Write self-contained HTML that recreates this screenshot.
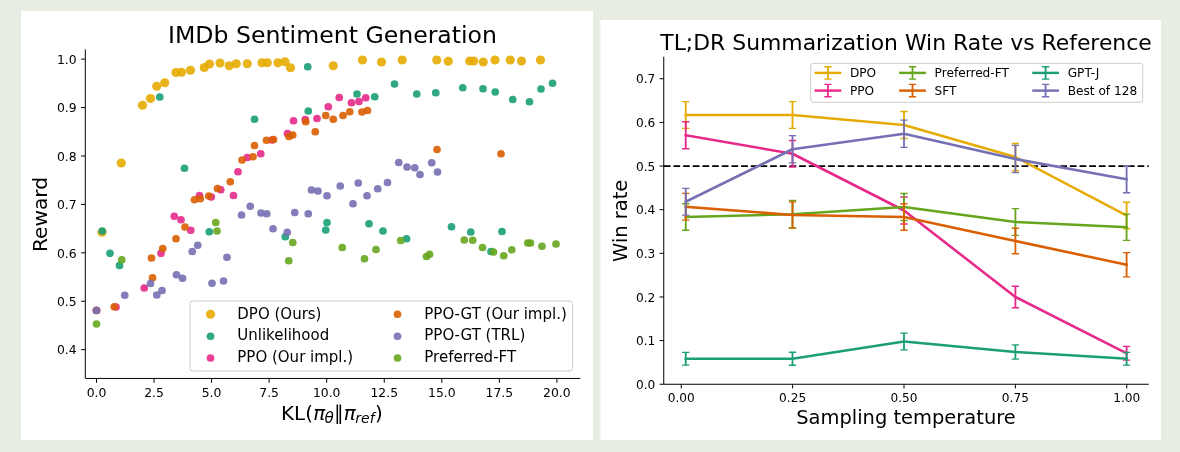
<!DOCTYPE html>
<html><head><meta charset="utf-8"><title>DPO results</title>
<style>
html,body{margin:0;padding:0;background:#e8ede4;}
body{width:1180px;height:452px;overflow:hidden;position:relative;}
svg{position:absolute;left:0;top:0;display:block;will-change:transform;}
text{font-family:"DejaVu Sans", "Liberation Sans", sans-serif;fill:#000;}
.tk{font-size:12.4px;}
.tk2{font-size:12.15px;}
.it{font-style:italic;}
</style></head><body>
<svg width="1180" height="452" viewBox="0 0 1180 452">
<rect x="0" y="0" width="1180" height="452" fill="#e8ede4"/>
<rect x="21" y="11" width="572" height="429" fill="#fff"/>
<rect x="600.5" y="20" width="560.5" height="420" fill="#fff"/>

<g id="left">
<text x="332.5" y="43.1" text-anchor="middle" font-size="23.6px">IMDb Sentiment Generation</text>
<g fill="#e6ab02" fill-opacity="0.9"><circle cx="142.50" cy="105.25" r="4.6"/><circle cx="150.50" cy="98.50" r="4.6"/><circle cx="156.75" cy="86.25" r="4.6"/><circle cx="164.75" cy="82.75" r="4.6"/><circle cx="176.00" cy="72.50" r="4.6"/><circle cx="181.50" cy="72.25" r="4.6"/><circle cx="190.50" cy="70.25" r="4.6"/><circle cx="204.25" cy="67.50" r="4.6"/><circle cx="209.50" cy="64.00" r="4.6"/><circle cx="220.00" cy="63.00" r="4.6"/><circle cx="229.25" cy="65.75" r="4.6"/><circle cx="236.25" cy="63.75" r="4.6"/><circle cx="247.25" cy="63.75" r="4.6"/><circle cx="262.00" cy="62.75" r="4.6"/><circle cx="267.25" cy="62.75" r="4.6"/><circle cx="278.00" cy="62.75" r="4.6"/><circle cx="285.00" cy="61.75" r="4.6"/><circle cx="290.50" cy="67.75" r="4.6"/><circle cx="333.25" cy="65.75" r="4.6"/><circle cx="362.50" cy="60.00" r="4.6"/><circle cx="381.50" cy="62.00" r="4.6"/><circle cx="402.25" cy="60.00" r="4.6"/><circle cx="436.75" cy="60.00" r="4.6"/><circle cx="448.25" cy="61.25" r="4.6"/><circle cx="469.75" cy="61.00" r="4.6"/><circle cx="473.75" cy="61.00" r="4.6"/><circle cx="483.25" cy="62.00" r="4.6"/><circle cx="495.00" cy="60.00" r="4.6"/><circle cx="510.25" cy="60.00" r="4.6"/><circle cx="521.50" cy="61.00" r="4.6"/><circle cx="540.50" cy="60.00" r="4.6"/><circle cx="121.25" cy="163.00" r="4.6"/><circle cx="102.00" cy="232.25" r="4.6"/></g>
<g fill="#1b9e77" fill-opacity="0.9"><circle cx="159.75" cy="97.00" r="3.85"/><circle cx="307.75" cy="66.75" r="3.85"/><circle cx="357.00" cy="94.00" r="3.85"/><circle cx="374.75" cy="96.75" r="3.85"/><circle cx="308.25" cy="111.00" r="3.85"/><circle cx="254.50" cy="119.25" r="3.85"/><circle cx="394.50" cy="84.00" r="3.85"/><circle cx="416.75" cy="94.00" r="3.85"/><circle cx="435.75" cy="92.75" r="3.85"/><circle cx="462.75" cy="87.75" r="3.85"/><circle cx="483.00" cy="88.75" r="3.85"/><circle cx="495.25" cy="92.00" r="3.85"/><circle cx="512.75" cy="99.50" r="3.85"/><circle cx="529.50" cy="101.75" r="3.85"/><circle cx="541.00" cy="89.00" r="3.85"/><circle cx="552.50" cy="83.25" r="3.85"/><circle cx="184.50" cy="168.25" r="3.85"/><circle cx="102.25" cy="231.00" r="3.85"/><circle cx="110.00" cy="253.25" r="3.85"/><circle cx="119.50" cy="265.50" r="3.85"/><circle cx="209.25" cy="231.75" r="3.85"/><circle cx="285.25" cy="236.75" r="3.85"/><circle cx="327.00" cy="222.50" r="3.85"/><circle cx="325.75" cy="230.00" r="3.85"/><circle cx="369.00" cy="223.75" r="3.85"/><circle cx="383.00" cy="231.00" r="3.85"/><circle cx="406.50" cy="238.75" r="3.85"/><circle cx="451.50" cy="226.75" r="3.85"/><circle cx="470.75" cy="232.00" r="3.85"/><circle cx="502.00" cy="231.50" r="3.85"/><circle cx="491.00" cy="251.50" r="3.85"/></g>
<g fill="#e7298a" fill-opacity="0.9"><circle cx="339.25" cy="97.50" r="3.85"/><circle cx="365.75" cy="97.75" r="3.85"/><circle cx="359.00" cy="101.50" r="3.85"/><circle cx="351.50" cy="102.75" r="3.85"/><circle cx="328.25" cy="106.75" r="3.85"/><circle cx="317.00" cy="118.50" r="3.85"/><circle cx="305.25" cy="119.50" r="3.85"/><circle cx="293.50" cy="120.75" r="3.85"/><circle cx="287.50" cy="133.50" r="3.85"/><circle cx="272.00" cy="140.00" r="3.85"/><circle cx="260.75" cy="153.75" r="3.85"/><circle cx="247.25" cy="157.50" r="3.85"/><circle cx="199.50" cy="195.50" r="3.85"/><circle cx="220.75" cy="189.75" r="3.85"/><circle cx="211.25" cy="197.00" r="3.85"/><circle cx="233.50" cy="195.50" r="3.85"/><circle cx="174.25" cy="216.25" r="3.85"/><circle cx="181.00" cy="219.75" r="3.85"/><circle cx="190.75" cy="230.25" r="3.85"/><circle cx="161.00" cy="253.25" r="3.85"/><circle cx="238.00" cy="171.75" r="3.85"/><circle cx="144.25" cy="288.00" r="3.85"/><circle cx="116.00" cy="307.00" r="3.85"/><circle cx="96.50" cy="310.25" r="3.85"/></g>
<g fill="#d95f02" fill-opacity="0.9"><circle cx="367.50" cy="110.50" r="3.85"/><circle cx="362.00" cy="112.00" r="3.85"/><circle cx="349.75" cy="111.75" r="3.85"/><circle cx="343.00" cy="115.50" r="3.85"/><circle cx="333.25" cy="119.25" r="3.85"/><circle cx="325.75" cy="115.50" r="3.85"/><circle cx="305.75" cy="121.75" r="3.85"/><circle cx="315.25" cy="131.75" r="3.85"/><circle cx="292.75" cy="135.00" r="3.85"/><circle cx="289.00" cy="136.50" r="3.85"/><circle cx="273.50" cy="139.50" r="3.85"/><circle cx="266.50" cy="140.25" r="3.85"/><circle cx="254.50" cy="145.50" r="3.85"/><circle cx="253.00" cy="156.75" r="3.85"/><circle cx="242.00" cy="160.00" r="3.85"/><circle cx="437.00" cy="149.50" r="3.85"/><circle cx="501.00" cy="153.75" r="3.85"/><circle cx="230.25" cy="181.75" r="3.85"/><circle cx="217.50" cy="188.50" r="3.85"/><circle cx="208.75" cy="196.00" r="3.85"/><circle cx="200.25" cy="198.75" r="3.85"/><circle cx="194.50" cy="199.75" r="3.85"/><circle cx="185.00" cy="227.00" r="3.85"/><circle cx="176.00" cy="238.75" r="3.85"/><circle cx="162.75" cy="248.50" r="3.85"/><circle cx="151.50" cy="258.00" r="3.85"/><circle cx="152.50" cy="277.75" r="3.85"/><circle cx="114.25" cy="306.75" r="3.85"/><circle cx="96.50" cy="310.50" r="3.85"/></g>
<g fill="#7570b3" fill-opacity="0.9"><circle cx="197.75" cy="245.25" r="3.85"/><circle cx="192.25" cy="251.50" r="3.85"/><circle cx="227.00" cy="257.25" r="3.85"/><circle cx="241.50" cy="215.00" r="3.85"/><circle cx="250.25" cy="206.25" r="3.85"/><circle cx="261.00" cy="213.00" r="3.85"/><circle cx="266.75" cy="213.75" r="3.85"/><circle cx="273.00" cy="228.75" r="3.85"/><circle cx="287.25" cy="232.25" r="3.85"/><circle cx="294.75" cy="212.50" r="3.85"/><circle cx="308.25" cy="213.75" r="3.85"/><circle cx="311.50" cy="190.00" r="3.85"/><circle cx="318.00" cy="191.00" r="3.85"/><circle cx="327.00" cy="195.75" r="3.85"/><circle cx="340.25" cy="186.00" r="3.85"/><circle cx="358.25" cy="183.00" r="3.85"/><circle cx="353.00" cy="203.75" r="3.85"/><circle cx="367.00" cy="195.75" r="3.85"/><circle cx="377.75" cy="188.75" r="3.85"/><circle cx="387.50" cy="182.50" r="3.85"/><circle cx="398.75" cy="162.50" r="3.85"/><circle cx="407.00" cy="167.00" r="3.85"/><circle cx="414.75" cy="167.75" r="3.85"/><circle cx="420.00" cy="174.50" r="3.85"/><circle cx="431.75" cy="162.75" r="3.85"/><circle cx="437.50" cy="172.00" r="3.85"/><circle cx="176.50" cy="274.75" r="3.85"/><circle cx="182.50" cy="278.25" r="3.85"/><circle cx="150.50" cy="283.50" r="3.85"/><circle cx="162.00" cy="290.50" r="3.85"/><circle cx="156.75" cy="295.00" r="3.85"/><circle cx="124.75" cy="295.25" r="3.85"/><circle cx="96.50" cy="310.50" r="3.85"/><circle cx="212.00" cy="283.25" r="3.85"/><circle cx="223.50" cy="281.00" r="3.85"/></g>
<g fill="#66a61e" fill-opacity="0.9"><circle cx="121.75" cy="259.75" r="3.85"/><circle cx="215.75" cy="222.50" r="3.85"/><circle cx="217.00" cy="231.00" r="3.85"/><circle cx="292.75" cy="242.50" r="3.85"/><circle cx="288.75" cy="260.75" r="3.85"/><circle cx="342.25" cy="247.50" r="3.85"/><circle cx="364.50" cy="258.75" r="3.85"/><circle cx="376.00" cy="249.50" r="3.85"/><circle cx="400.75" cy="240.50" r="3.85"/><circle cx="429.50" cy="254.25" r="3.85"/><circle cx="426.50" cy="256.50" r="3.85"/><circle cx="464.25" cy="240.00" r="3.85"/><circle cx="472.75" cy="240.25" r="3.85"/><circle cx="482.50" cy="247.50" r="3.85"/><circle cx="493.50" cy="252.00" r="3.85"/><circle cx="503.75" cy="255.75" r="3.85"/><circle cx="511.75" cy="249.75" r="3.85"/><circle cx="527.75" cy="243.00" r="3.85"/><circle cx="530.50" cy="243.00" r="3.85"/><circle cx="542.00" cy="246.25" r="3.85"/><circle cx="556.00" cy="244.00" r="3.85"/><circle cx="96.50" cy="324.00" r="3.85"/></g>
<path d="M85.3 49.4V378.45H580.4" fill="none" stroke="#000" stroke-width="1"/>
<path d="M81.00 349.70H85.3" stroke="#000" stroke-width="1"/>
<text class="tk" x="76.70" y="354.40" text-anchor="end">0.4</text>
<path d="M81.00 301.27H85.3" stroke="#000" stroke-width="1"/>
<text class="tk" x="76.70" y="305.97" text-anchor="end">0.5</text>
<path d="M81.00 252.84H85.3" stroke="#000" stroke-width="1"/>
<text class="tk" x="76.70" y="257.54" text-anchor="end">0.6</text>
<path d="M81.00 204.41H85.3" stroke="#000" stroke-width="1"/>
<text class="tk" x="76.70" y="209.11" text-anchor="end">0.7</text>
<path d="M81.00 155.98H85.3" stroke="#000" stroke-width="1"/>
<text class="tk" x="76.70" y="160.68" text-anchor="end">0.8</text>
<path d="M81.00 107.55H85.3" stroke="#000" stroke-width="1"/>
<text class="tk" x="76.70" y="112.25" text-anchor="end">0.9</text>
<path d="M81.00 59.12H85.3" stroke="#000" stroke-width="1"/>
<text class="tk" x="76.70" y="63.82" text-anchor="end">1.0</text>
<path d="M96.50 378.45V382.75" stroke="#000" stroke-width="1"/>
<text class="tk" x="96.50" y="396.8" text-anchor="middle">0.0</text>
<path d="M154.05 378.45V382.75" stroke="#000" stroke-width="1"/>
<text class="tk" x="154.05" y="396.8" text-anchor="middle">2.5</text>
<path d="M211.60 378.45V382.75" stroke="#000" stroke-width="1"/>
<text class="tk" x="211.60" y="396.8" text-anchor="middle">5.0</text>
<path d="M269.15 378.45V382.75" stroke="#000" stroke-width="1"/>
<text class="tk" x="269.15" y="396.8" text-anchor="middle">7.5</text>
<path d="M326.70 378.45V382.75" stroke="#000" stroke-width="1"/>
<text class="tk" x="326.70" y="396.8" text-anchor="middle">10.0</text>
<path d="M384.25 378.45V382.75" stroke="#000" stroke-width="1"/>
<text class="tk" x="384.25" y="396.8" text-anchor="middle">12.5</text>
<path d="M441.80 378.45V382.75" stroke="#000" stroke-width="1"/>
<text class="tk" x="441.80" y="396.8" text-anchor="middle">15.0</text>
<path d="M499.35 378.45V382.75" stroke="#000" stroke-width="1"/>
<text class="tk" x="499.35" y="396.8" text-anchor="middle">17.5</text>
<path d="M556.90 378.45V382.75" stroke="#000" stroke-width="1"/>
<text class="tk" x="556.90" y="396.8" text-anchor="middle">20.0</text>
<text transform="translate(47.0 214.5) rotate(-90)" text-anchor="middle" font-size="20.2px">Reward</text>
<text x="281.1" y="419.6" font-size="19.86px">KL(<tspan class="it" dx="0.2">π</tspan><tspan class="it" font-size="15.2px" dy="3.7" dx="-0.6">θ</tspan><tspan dy="-3.7" dx="0.25">∥</tspan><tspan class="it" dx="-0.3">π</tspan><tspan class="it" font-size="14.0px" dy="3.7" dx="-0.3">ref</tspan><tspan dy="-3.7" dx="0.2">)</tspan></text>
<rect x="190" y="301" width="382.6" height="70" rx="2.5" fill="#fff" fill-opacity="0.8" stroke="#c8c8c8" stroke-opacity="0.95" stroke-width="1"/>
<circle cx="210.5" cy="314.25" r="4.6" fill="#e6ab02" fill-opacity="0.9"/><text x="237.3" y="318.5" font-size="15.0px">DPO (Ours)</text>
<circle cx="210.5" cy="336.25" r="3.85" fill="#1b9e77" fill-opacity="0.9"/><text x="237.3" y="340.4" font-size="15.0px">Unlikelihood</text>
<circle cx="210.5" cy="358.0" r="3.85" fill="#e7298a" fill-opacity="0.9"/><text x="237.3" y="362.3" font-size="15.0px">PPO (Our impl.)</text>
<circle cx="397.5" cy="314.25" r="3.85" fill="#d95f02" fill-opacity="0.9"/><text x="424.3" y="318.5" font-size="15.0px">PPO-GT (Our impl.)</text>
<circle cx="397.5" cy="336.25" r="3.85" fill="#7570b3" fill-opacity="0.9"/><text x="424.3" y="340.4" font-size="15.0px">PPO-GT (TRL)</text>
<circle cx="397.5" cy="358.0" r="3.85" fill="#66a61e" fill-opacity="0.9"/><text x="424.3" y="362.3" font-size="15.0px">Preferred-FT</text>
</g>
<g id="right">
<text x="906" y="49.8" text-anchor="middle" font-size="21.9px">TL;DR Summarization Win Rate vs Reference</text>
<path d="M663.75 166.05H1148.75" stroke="#000" stroke-width="1.83" stroke-dasharray="6.75 2.92" fill="none"/>
<g stroke="#e6ab02" fill="none"><path d="M685.75 115.00 L792.50 115.00 L904.00 125.00 L1015.40 157.10 L1126.60 215.50" stroke-width="2.55" stroke-linejoin="round" stroke-linecap="square"/>
<path d="M682.10 101.60h7.3M682.10 128.40h7.3M788.85 101.60h7.3M788.85 128.40h7.3M900.35 111.50h7.3M900.35 138.50h7.3M1011.75 143.50h7.3M1011.75 170.70h7.3M1122.95 202.25h7.3M1122.95 228.75h7.3" stroke-width="1.4"/><path d="M685.75 101.60V128.40M792.50 101.60V128.40M904.00 111.50V138.50M1015.40 143.50V170.70M1126.60 202.25V228.75" stroke-width="1.83"/></g>
<g stroke="#e7298a" fill="none"><path d="M685.75 135.25 L792.50 153.75 L904.00 210.50 L1015.40 297.00 L1126.60 353.25" stroke-width="2.55" stroke-linejoin="round" stroke-linecap="square"/>
<path d="M682.10 121.75h7.3M682.10 148.75h7.3M788.85 140.50h7.3M788.85 167.00h7.3M900.35 197.00h7.3M900.35 224.00h7.3M1011.75 286.25h7.3M1011.75 307.75h7.3M1122.95 346.35h7.3M1122.95 360.15h7.3" stroke-width="1.4"/><path d="M685.75 121.75V148.75M792.50 140.50V167.00M904.00 197.00V224.00M1015.40 286.25V307.75M1126.60 346.35V360.15" stroke-width="1.83"/></g>
<g stroke="#66a61e" fill="none"><path d="M685.75 217.00 L792.50 214.25 L904.00 207.00 L1015.40 222.00 L1126.60 227.25" stroke-width="2.55" stroke-linejoin="round" stroke-linecap="square"/>
<path d="M682.10 203.75h7.3M682.10 230.25h7.3M788.85 200.45h7.3M788.85 228.05h7.3M900.35 193.50h7.3M900.35 220.50h7.3M1011.75 208.60h7.3M1011.75 235.40h7.3M1122.95 214.15h7.3M1122.95 240.35h7.3" stroke-width="1.4"/><path d="M685.75 203.75V230.25M792.50 200.45V228.05M904.00 193.50V220.50M1015.40 208.60V235.40M1126.60 214.15V240.35" stroke-width="1.83"/></g>
<g stroke="#d95f02" fill="none"><path d="M685.75 206.75 L792.50 215.00 L904.00 217.00 L1015.40 241.00 L1126.60 264.75" stroke-width="2.55" stroke-linejoin="round" stroke-linecap="square"/>
<path d="M682.10 193.35h7.3M682.10 220.15h7.3M788.85 201.90h7.3M788.85 228.10h7.3M900.35 203.75h7.3M900.35 230.25h7.3M1011.75 228.25h7.3M1011.75 253.75h7.3M1122.95 252.65h7.3M1122.95 276.85h7.3" stroke-width="1.4"/><path d="M685.75 193.35V220.15M792.50 201.90V228.10M904.00 203.75V230.25M1015.40 228.25V253.75M1126.60 252.65V276.85" stroke-width="1.83"/></g>
<g stroke="#1b9e77" fill="none"><path d="M685.75 358.75 L792.50 358.75 L904.00 341.50 L1015.40 352.00 L1126.60 358.75" stroke-width="2.55" stroke-linejoin="round" stroke-linecap="square"/>
<path d="M682.10 352.35h7.3M682.10 365.15h7.3M788.85 352.25h7.3M788.85 365.25h7.3M900.35 333.10h7.3M900.35 349.90h7.3M1011.75 344.90h7.3M1011.75 359.10h7.3M1122.95 352.35h7.3M1122.95 365.15h7.3" stroke-width="1.4"/><path d="M685.75 352.35V365.15M792.50 352.25V365.25M904.00 333.10V349.90M1015.40 344.90V359.10M1126.60 352.35V365.15" stroke-width="1.83"/></g>
<g stroke="#7570b3" fill="none"><path d="M685.75 201.75 L792.50 149.25 L904.00 133.75 L1015.40 159.00 L1126.60 179.25" stroke-width="2.55" stroke-linejoin="round" stroke-linecap="square"/>
<path d="M682.10 188.35h7.3M682.10 215.15h7.3M788.85 135.65h7.3M788.85 162.85h7.3M900.35 120.15h7.3M900.35 147.35h7.3M1011.75 145.40h7.3M1011.75 172.60h7.3M1122.95 165.75h7.3M1122.95 192.75h7.3" stroke-width="1.4"/><path d="M685.75 188.35V215.15M792.50 135.65V162.85M904.00 120.15V147.35M1015.40 145.40V172.60M1126.60 165.75V192.75" stroke-width="1.83"/></g>
<path d="M663.75 56.75V384.25H1148.75" fill="none" stroke="#000" stroke-width="1"/>
<path d="M659.55 384.25H663.75" stroke="#000" stroke-width="1"/>
<text class="tk2" x="655.25" y="388.85" text-anchor="end">0.0</text>
<path d="M659.55 340.61H663.75" stroke="#000" stroke-width="1"/>
<text class="tk2" x="655.25" y="345.21" text-anchor="end">0.1</text>
<path d="M659.55 296.97H663.75" stroke="#000" stroke-width="1"/>
<text class="tk2" x="655.25" y="301.57" text-anchor="end">0.2</text>
<path d="M659.55 253.33H663.75" stroke="#000" stroke-width="1"/>
<text class="tk2" x="655.25" y="257.93" text-anchor="end">0.3</text>
<path d="M659.55 209.69H663.75" stroke="#000" stroke-width="1"/>
<text class="tk2" x="655.25" y="214.29" text-anchor="end">0.4</text>
<path d="M659.55 166.05H663.75" stroke="#000" stroke-width="1"/>
<text class="tk2" x="655.25" y="170.65" text-anchor="end">0.5</text>
<path d="M659.55 122.41H663.75" stroke="#000" stroke-width="1"/>
<text class="tk2" x="655.25" y="127.01" text-anchor="end">0.6</text>
<path d="M659.55 78.77H663.75" stroke="#000" stroke-width="1"/>
<text class="tk2" x="655.25" y="83.37" text-anchor="end">0.7</text>
<path d="M681.25 384.25V388.45" stroke="#000" stroke-width="1"/>
<text class="tk2" x="681.25" y="402" text-anchor="middle">0.00</text>
<path d="M792.62 384.25V388.45" stroke="#000" stroke-width="1"/>
<text class="tk2" x="792.62" y="402" text-anchor="middle">0.25</text>
<path d="M904.00 384.25V388.45" stroke="#000" stroke-width="1"/>
<text class="tk2" x="904.00" y="402" text-anchor="middle">0.50</text>
<path d="M1015.38 384.25V388.45" stroke="#000" stroke-width="1"/>
<text class="tk2" x="1015.38" y="402" text-anchor="middle">0.75</text>
<path d="M1126.75 384.25V388.45" stroke="#000" stroke-width="1"/>
<text class="tk2" x="1126.75" y="402" text-anchor="middle">1.00</text>
<text transform="translate(626.8 220.8) rotate(-90)" text-anchor="middle" font-size="19.47px">Win rate</text>
<text x="906" y="423.9" text-anchor="middle" font-size="19.47px">Sampling temperature</text>
<rect x="810.7" y="63.3" width="332" height="39" rx="2.4" fill="#fff" fill-opacity="0.8" stroke="#c8c8c8" stroke-opacity="0.95" stroke-width="1"/>
<g stroke="#e6ab02" fill="none"><path d="M815.75 72.9h24.3" stroke-width="2.43" stroke-linecap="square"/><path d="M824.25 66.70h7.3M824.25 79.10h7.3" stroke-width="1.4"/><path d="M827.9 66.70V79.10" stroke-width="1.83"/></g>
<text class="tk2" x="849.9" y="77.0">DPO</text>
<g stroke="#e7298a" fill="none"><path d="M815.75 90.6h24.3" stroke-width="2.43" stroke-linecap="square"/><path d="M824.25 84.40h7.3M824.25 96.80h7.3" stroke-width="1.4"/><path d="M827.9 84.40V96.80" stroke-width="1.83"/></g>
<text class="tk2" x="849.9" y="94.7">PPO</text>
<g stroke="#66a61e" fill="none"><path d="M900.35 72.9h24.3" stroke-width="2.43" stroke-linecap="square"/><path d="M908.85 66.70h7.3M908.85 79.10h7.3" stroke-width="1.4"/><path d="M912.5 66.70V79.10" stroke-width="1.83"/></g>
<text class="tk2" x="934.6" y="77.0">Preferred-FT</text>
<g stroke="#d95f02" fill="none"><path d="M900.35 90.6h24.3" stroke-width="2.43" stroke-linecap="square"/><path d="M908.85 84.40h7.3M908.85 96.80h7.3" stroke-width="1.4"/><path d="M912.5 84.40V96.80" stroke-width="1.83"/></g>
<text class="tk2" x="934.6" y="94.7">SFT</text>
<g stroke="#1b9e77" fill="none"><path d="M1033.45 72.9h24.3" stroke-width="2.43" stroke-linecap="square"/><path d="M1041.95 66.70h7.3M1041.95 79.10h7.3" stroke-width="1.4"/><path d="M1045.6 66.70V79.10" stroke-width="1.83"/></g>
<text class="tk2" x="1067.7" y="77.0">GPT-J</text>
<g stroke="#7570b3" fill="none"><path d="M1033.45 90.6h24.3" stroke-width="2.43" stroke-linecap="square"/><path d="M1041.95 84.40h7.3M1041.95 96.80h7.3" stroke-width="1.4"/><path d="M1045.6 84.40V96.80" stroke-width="1.83"/></g>
<text class="tk2" x="1067.7" y="94.7">Best of 128</text>
</g>
</svg></body></html>
